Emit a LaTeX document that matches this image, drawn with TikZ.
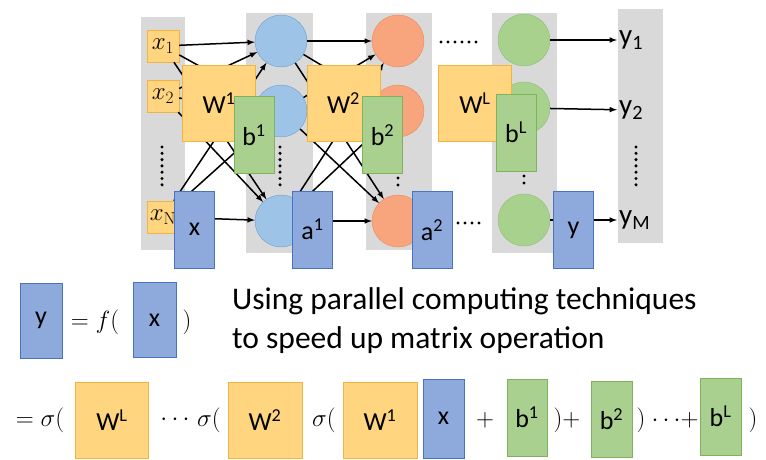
\documentclass[tikz,border=0pt]{standalone}
\usepackage[no-math]{fontspec}
\setmainfont{Carlito}
\definecolor{colgray}{HTML}{D9D9D9}
\definecolor{wfill}{HTML}{FFD580}
\definecolor{wline}{HTML}{F2B441}
\definecolor{gfill}{HTML}{A9D08E}
\definecolor{gline}{HTML}{7DB35A}
\definecolor{bfill}{HTML}{8EA9DB}
\definecolor{bline}{HTML}{4A72C4}
\definecolor{nblue}{HTML}{9DC3E6}
\definecolor{nblueline}{HTML}{6A9FD0}
\definecolor{norange}{HTML}{F8A47C}
\definecolor{norangeline}{HTML}{E88A5A}
\definecolor{ngreen}{HTML}{A9D18E}
\definecolor{ngreenline}{HTML}{8BBF6F}
\tikzset{
  wbox/.style={draw=wline, fill=wfill, minimum width=73pt, minimum height=76pt,
    inner sep=0pt, font=\fontsize{26}{28}\selectfont},
  bbox/.style={draw=gline, fill=gfill, minimum width=40pt, minimum height=77pt,
    inner sep=0pt, font=\fontsize{26}{28}\selectfont},
  vbox/.style={draw=bline, fill=bfill, minimum width=40pt, minimum height=77pt,
    inner sep=0pt, font=\fontsize{26}{28}\selectfont},
  inbox/.style={draw=wline, fill=wfill, minimum size=32pt, inner sep=0pt,
    font=\fontsize{25}{27}\selectfont},
  neuron/.style={circle, minimum size=52pt, inner sep=0pt},
  neuronA/.style={neuron, draw=nblueline, fill=nblue},
  neuronB/.style={neuron, draw=norangeline, fill=norange},
  neuronL/.style={neuron, draw=ngreenline, fill=ngreen},
  outlab/.style={anchor=west, inner sep=2pt, font=\fontsize{29}{31}\selectfont},
  conn/.style={->, line width=1.5pt},
  optext/.style={inner sep=0pt, font=\fontsize{29}{31}\selectfont}
}
\begin{document}
\begin{tikzpicture}[x=1pt, y=-1pt, >=latex]
  \useasboundingbox (0,0) rectangle (766,460);
  % layer columns
  \fill[colgray] (141,17) rectangle (185,250);
  \fill[colgray] (246,13) rectangle (313,253);
  \fill[colgray] (366,13) rectangle (432,250);
  \fill[colgray] (492,13) rectangle (557,253);
  \fill[colgray] (618,9) rectangle (663,243);
  % inputs
  \node[inbox] (x1) at (163,46) {$x_1$};
  \node[inbox] (x2) at (163,96) {$x_2$};
  \node[inbox] (xN) at (163,217) {$x_{\mathrm{N}}$};
  % neurons
  \foreach \k/\y in {1/41,2/111,3/221} {
    \node[neuronA] (hA\k) at (281,\y) {};
    \node[neuronB] (hB\k) at (398,\y) {};
  }
  \node[neuronL] (hL1) at (524,40) {};
  \node[neuronL] (hL2) at (524,108) {};
  \node[neuronL] (hL3) at (524,220) {};
  % outputs
  \node[outlab] (y1) at (617,40) {y\textsubscript{1}};
  \node[outlab] (y2) at (617,110) {y\textsubscript{2}};
  \node[outlab] (yM) at (617,220) {y\textsubscript{M}};
  % connections
  \foreach \i in {x1,x2,xN}
    \foreach \k in {1,2,3}
      \draw[conn] (\i) -- (hA\k);
  \foreach \i in {1,2,3}
    \foreach \k in {1,2,3}
      \draw[conn] (hA\i) -- (hB\k);
  \foreach \k/\o in {1/y1,2/y2,3/yM}
    \draw[conn] (hL\k) -- (\o);
  % dots
  \foreach \k in {0,...,6} {
    \fill (162,147+\k*6.3) circle (1.7);
    \fill (280,147+\k*6.3) circle (1.7);
    \fill (636,147+\k*6.3) circle (1.7);
  }
  \foreach \k in {0,1} {
    \fill (398,178+\k*7) circle (1.7);
    \fill (524,176+\k*7) circle (1.7);
  }
  \foreach \k in {0,...,5}
    \fill (441+\k*7,42) circle (1.7);
  \foreach \k in {0,...,3}
    \fill (458+\k*7,223) circle (1.7);
  % matrices
  \node[wbox] (W1) at (219,103.5) {W\textsuperscript{1}};
  \node[bbox] (b1) at (254,135) {b\textsuperscript{1}};
  \node[vbox] (xv) at (194.5,229.5) {x};
  \node[vbox] (a1) at (312.5,229.5) {a\textsuperscript{1}};
  \node[wbox] (W2) at (343.5,103.5) {W\textsuperscript{2}};
  \node[bbox] (b2) at (382.5,135) {b\textsuperscript{2}};
  \node[vbox] (a2) at (432,230) {a\textsuperscript{2}};
  \node[wbox] (WL) at (475,103.5) {W\textsuperscript{L}};
  \node[bbox] (bL) at (516,132.5) {b\textsuperscript{L}};
  \node[vbox] (yv) at (573.5,230) {y};
  % y = f(x)
  \node[vbox, minimum width=42pt, minimum height=75pt] (yf) at (41,320.5) {y};
  \node[optext] (eqf) at (95,322) {$=f($};
  \node[vbox, minimum width=43pt, minimum height=75pt] (xf) at (154.5,320) {x};
  \node[optext] (pf) at (187,322) {$)$};
  \node[anchor=west, align=left, inner sep=0pt, font=\fontsize{31.5}{39}\selectfont]
    (note) at (232,321) {Using parallel computing techniques\\to speed up matrix operation};
  % expanded form
  \node[optext] (e1) at (40,420) {$=\sigma($};
  \node[wbox] (eWL) at (112,420) {W\textsuperscript{L}};
  \node[optext] (e2) at (175,420) {$\cdots$};
  \node[optext] (e3) at (209,420) {$\sigma($};
  \node[wbox, minimum width=74pt] (eW2) at (265,420) {W\textsuperscript{2}};
  \node[optext] (e4) at (324,420) {$\sigma($};
  \node[wbox, minimum width=74pt] (eW1) at (380,420) {W\textsuperscript{1}};
  \node[vbox, minimum width=41pt, minimum height=79pt] (ex) at (443.5,418.5) {x};
  \node[optext] (e5) at (485,420) {$+$};
  \node[bbox] (eb1) at (527,417.5) {b\textsuperscript{1}};
  \node[optext] (e6) at (567,420) {$)+$};
  \node[bbox, minimum width=41pt, minimum height=76pt] (eb2) at (611.5,419) {b\textsuperscript{2}};
  \node[optext] (e7) at (641,420) {$)$};
  \node[optext] (e8) at (675,420) {$\cdots\!+$};
  \node[bbox, minimum width=41pt] (ebL) at (720.5,416.5) {b\textsuperscript{L}};
  \node[optext] (e9) at (753,420) {$)$};
\end{tikzpicture}
\end{document}
